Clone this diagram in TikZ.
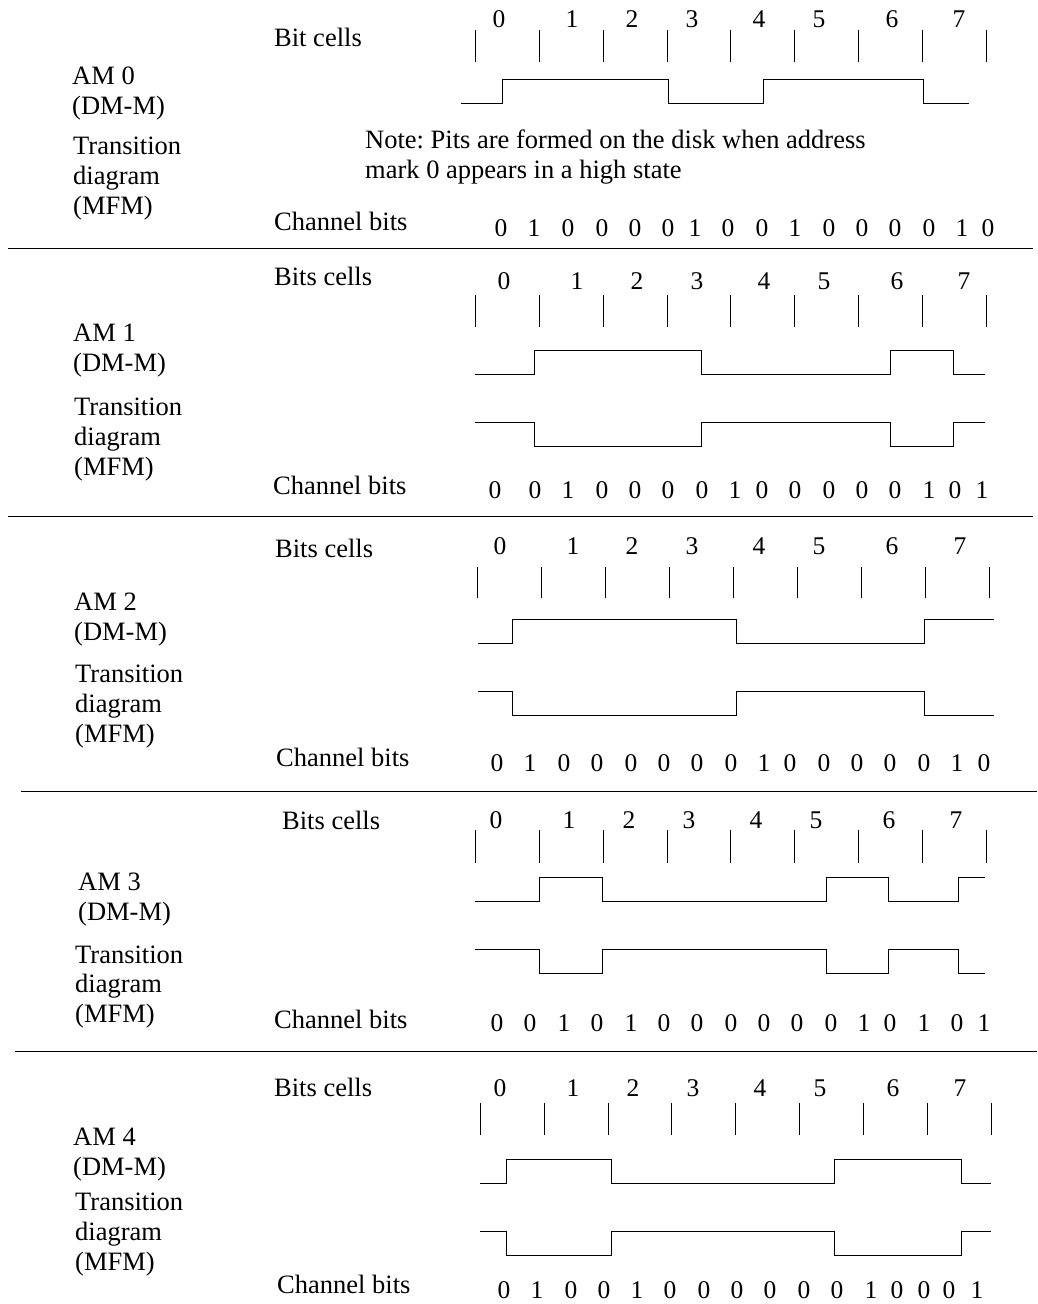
\documentclass[tikz,border=0pt]{standalone}
\usepackage{fontspec}
\setmainfont{Liberation Serif}
\frenchspacing
\tikzset{
  x=1pt,y=-1pt,
  lbl/.style={inner sep=0pt,anchor=base west,font=\fontsize{26.5}{30}\selectfont},
  dig/.style={inner sep=0pt,anchor=base,font=\fontsize{25.5}{30}\selectfont},
  tick/.style={line width=0.8pt,black},
  wave/.style={line width=0.8pt,black,line join=miter},
  sep/.style={line width=0.8pt,black}
}
\newcommand{\rowdigits}[3]{% prefix, baseline, x/text list
  \foreach \x/\t [count=\i] in {#3} \node[dig] (#1-\i) at (\x,#2) {\t};
}
\newcommand{\ticks}[4]{% prefix, y1, y2, xs
  \foreach \x [count=\i] in {#4} {
    \coordinate (#1a\i) at (\x,#2); \coordinate (#1b\i) at (\x,#3);
    \draw[tick] (#1a\i) -- (#1b\i);
  }
}
\begin{document}
\begin{tikzpicture}
\useasboundingbox (0,0) rectangle (1037,1304);
% panel 0
\node[lbl] (bc0) at (274,46) {Bit cells};
\node[lbl] (am0) at (72,84) {AM 0};
\node[lbl] (dm0) at (72,114) {(DM-M)};
\node[lbl] (tr0a) at (73,154) {Transition};
\node[lbl] (tr0b) at (73,184) {diagram};
\node[lbl] (tr0c) at (73,214) {(MFM)};
\node[lbl] (ch0) at (274,230) {Channel bits};
\node[lbl] (note1) at (365,148) {Note: Pits are formed on the disk when address};
\node[lbl] (note2) at (365,178) {mark 0 appears in a high state};
\rowdigits{n0}{27}{499/0,572/1,632/2,692/3,759/4,819/5,892/6,959/7}
\ticks{t0}{30}{62}{475,539,603,667,730,794,858,922,986}
\draw[wave] (461,103) -| (502,79) -| (668,103) -| (763,79) -| (923,103) -- (969,103);
\rowdigits{c0}{236}{501/0,534/1,568/0,602/0,635/0,668/0,695/1,728/0,762/0,795/1,829/0,862/0,895/0,929/0,962/1,988/0}
\coordinate (s0a) at (8,248); \coordinate (s0b) at (1033,248);
\draw[sep] (s0a) -- (s0b);
% panel 1
\node[lbl] (bc1) at (274,285) {Bits cells};
\node[lbl] (am1) at (73,341) {AM 1};
\node[lbl] (dm1) at (73,371) {(DM-M)};
\node[lbl] (tr1a) at (74,415) {Transition};
\node[lbl] (tr1b) at (74,445) {diagram};
\node[lbl] (tr1c) at (74,475) {(MFM)};
\node[lbl] (ch1) at (273,494) {Channel bits};
\rowdigits{n1}{289}{504/0,577/1,637/2,697/3,764/4,824/5,897/6,964/7}
\ticks{t1}{295}{327}{475,539,603,667,730,794,858,922,986}
\draw[wave] (475,374) -| (534,350) -| (701,374) -| (890,350) -| (953,374) -- (985,374);
\draw[wave] (475,422) -| (534,446) -| (701,422) -| (890,446) -| (953,422) -- (985,422);
\rowdigits{c1}{498}{495/0,535/0,568/1,602/0,635/0,668/0,702/0,735/1,762/0,795/0,829/0,862/0,895/0,929/1,955/0,982/1}
\coordinate (s1a) at (8,516); \coordinate (s1b) at (1033,516);
\draw[sep] (s1a) -- (s1b);
% panel 2
\node[lbl] (bc2) at (275,557) {Bits cells};
\node[lbl] (am2) at (74,610) {AM 2};
\node[lbl] (dm2) at (74,640) {(DM-M)};
\node[lbl] (tr2a) at (75,682) {Transition};
\node[lbl] (tr2b) at (75,712) {diagram};
\node[lbl] (tr2c) at (75,742) {(MFM)};
\node[lbl] (ch2) at (276,766) {Channel bits};
\rowdigits{n2}{554}{500/0,573/1,632/2,692/3,759/4,819/5,892/6,960/7}
\ticks{t2}{567}{598}{477,541,605,669,733,797,861,925,989}
\draw[wave] (478,643) -| (512,619) -| (736,643) -| (924,619) -- (994,619);
\draw[wave] (478,691) -| (512,715) -| (736,691) -| (924,715) -- (994,715);
\rowdigits{c2}{771}{497/0,530/1,564/0,597/0,631/0,664/0,697/0,731/0,764/1,790/0,824/0,857/0,890/0,924/0,957/1,984/0}
\coordinate (s2a) at (21,791); \coordinate (s2b) at (1037,791);
\draw[sep] (s2a) -- (s2b);
% panel 3
\node[lbl] (bc3) at (282,829) {Bits cells};
\node[lbl] (am3) at (78,890) {AM 3};
\node[lbl] (dm3) at (78,920) {(DM-M)};
\node[lbl] (tr3a) at (75,963) {Transition};
\node[lbl] (tr3b) at (75,992) {diagram};
\node[lbl] (tr3c) at (75,1022) {(MFM)};
\node[lbl] (ch3) at (274,1028) {Channel bits};
\rowdigits{n3}{828}{496/0,569/1,629/2,689/3,756/4,816/5,889/6,956/7}
\ticks{t3}{830}{863}{475,539,603,667,730,794,858,922,986}
\draw[wave] (475,901) -| (539,877) -| (602,901) -| (826,877) -| (888,901) -| (958,877) -- (985,877);
\draw[wave] (475,949) -| (539,973) -| (602,949) -| (826,973) -| (888,949) -| (958,973) -- (985,973);
\rowdigits{c3}{1031}{497/0,530/0,564/1,597/0,631/1,664/0,697/0,731/0,764/0,797/0,831/0,864/1,890/0,924/1,957/0,984/1}
\coordinate (s3a) at (15,1051); \coordinate (s3b) at (1037,1051);
\draw[sep] (s3a) -- (s3b);
% panel 4
\node[lbl] (bc4) at (274,1096) {Bits cells};
\node[lbl] (am4) at (73,1145) {AM 4};
\node[lbl] (dm4) at (73,1175) {(DM-M)};
\node[lbl] (tr4a) at (75,1210) {Transition};
\node[lbl] (tr4b) at (75,1240) {diagram};
\node[lbl] (tr4c) at (75,1270) {(MFM)};
\node[lbl] (ch4) at (277,1293) {Channel bits};
\rowdigits{n4}{1096}{500/0,573/1,633/2,693/3,760/4,820/5,893/6,960/7}
\ticks{t4}{1103}{1135}{480,544,608,671,735,799,863,927,991}
\draw[wave] (480,1183) -| (506,1159) -| (611,1183) -| (834,1159) -| (961,1183) -- (991,1183);
\draw[wave] (480,1231) -| (506,1255) -| (611,1231) -| (834,1255) -| (961,1231) -- (991,1231);
\rowdigits{c4}{1298}{504/0,537/1,571/0,604/0,637/1,670/0,704/0,737/0,770/0,804/0,837/0,871/1,897/0,924/0,949/0,977/1}
\end{tikzpicture}
\end{document}
